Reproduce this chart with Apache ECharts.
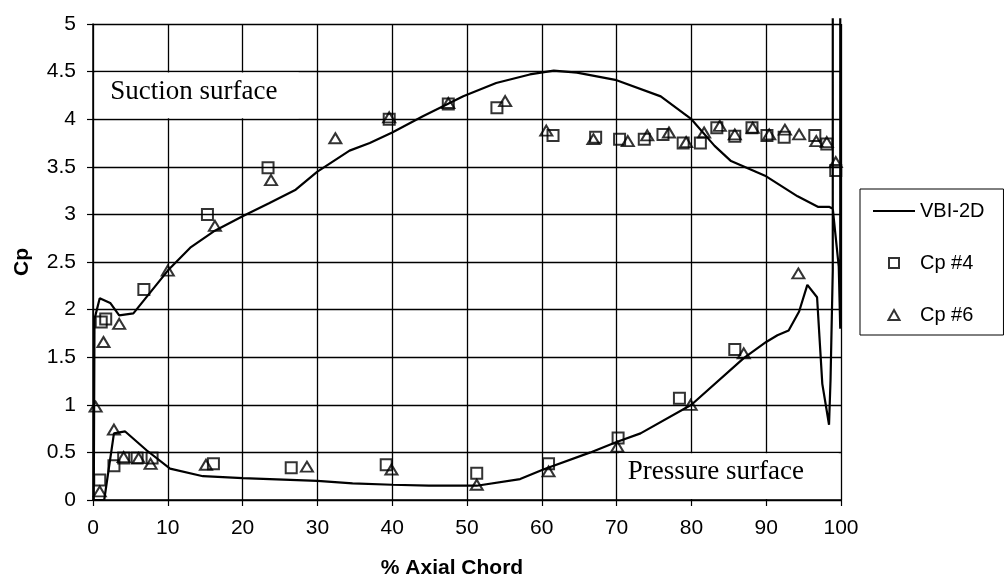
<!DOCTYPE html>
<html>
<head>
<meta charset="utf-8">
<script src="https://cdn.jsdelivr.net/npm/echarts@6/dist/echarts.min.js"></script>
<style>
  html, body { margin: 0; padding: 0; background: #fff; }
  #chart { width: 1005px; height: 586px; }
</style>
</head>
<body>
<div id="chart"></div>
<script>
// ---- data ----
// VBI-2D computed curve, traced as one path around the blade
const vbiX = [99.9, 99.9, 99.7, 98.9, 98.4, 96.9, 94.2, 90, 85.3, 83.1, 80, 75.9, 70, 64.7, 61.6, 58.4, 53.9, 49.5, 44.1, 40, 37, 34.3, 30, 27.1, 23.6, 20, 16.1, 13, 10, 5.4, 3.5, 2.3, 0.9, 0.2, 0.1,
              1.5, 2.8, 4.3, 7.2, 10.3, 14.7, 20, 30, 34.7, 40, 44.9, 51.3, 57.1, 60.2, 66.5, 70, 73.2, 80, 87, 90, 91.5, 93, 94.4, 95.5, 96.8, 97.5, 98.4, 98.6, 98.9, 98.9];
const vbiY = [5.06, 1.8, 2.45, 3.06, 3.08, 3.08, 3.19, 3.40, 3.56, 3.72, 4.0, 4.24, 4.41, 4.49, 4.51, 4.47, 4.38, 4.24, 4.03, 3.86, 3.75, 3.67, 3.45, 3.26, 3.12, 2.98, 2.82, 2.65, 2.41, 1.96, 1.94, 2.07, 2.12, 1.9, 0,
              0, 0.70, 0.72, 0.52, 0.33, 0.25, 0.23, 0.20, 0.175, 0.16, 0.15, 0.15, 0.22, 0.32, 0.50, 0.61, 0.70, 1.0, 1.49, 1.66, 1.73, 1.78, 1.98, 2.26, 2.13, 1.22, 0.79, 1.26, 2.41, 5.06];

// Cp #4 measurements (squares)
const cp4X = [0.9, 1.1, 1.7, 2.8, 4.1, 5.9, 6.8, 7.9, 15.3, 16.1, 23.4, 26.5, 39.2, 39.6, 47.5, 51.3, 54.0, 60.9, 61.5, 67.2, 70.2, 70.4, 73.7, 76.2, 78.4, 78.9, 81.2, 83.4, 85.8, 85.8, 88.1, 90.1, 92.4, 96.5, 98.1, 99.3];
const cp4Y = [0.21, 1.87, 1.90, 0.36, 0.44, 0.44, 2.21, 0.44, 3.0, 0.38, 3.49, 0.34, 0.37, 4.0, 4.16, 0.28, 4.12, 0.38, 3.83, 3.81, 0.65, 3.79, 3.79, 3.84, 1.07, 3.75, 3.75, 3.91, 1.58, 3.82, 3.91, 3.83, 3.81, 3.83, 3.74, 3.46];

// Cp #6 measurements (triangles)
const cp6X = [0.35, 0.9, 1.4, 2.8, 3.5, 4.1, 6.1, 7.7, 10, 15.1, 16.3, 23.8, 28.6, 32.4, 39.6, 39.9, 47.5, 51.3, 55.1, 60.6, 60.9, 66.9, 70.1, 71.5, 74.1, 77.0, 79.3, 79.9, 81.7, 83.8, 85.8, 87.0, 88.2, 90.4, 92.5, 94.3, 94.4, 96.7, 98.1, 99.3];
const cp6Y = [0.98, 0.09, 1.66, 0.74, 1.85, 0.45, 0.44, 0.38, 2.41, 0.37, 2.88, 3.36, 0.35, 3.8, 4.02, 0.32, 4.17, 0.16, 4.19, 3.88, 0.30, 3.79, 0.56, 3.77, 3.83, 3.86, 3.76, 1.0, 3.86, 3.93, 3.84, 1.54, 3.91, 3.84, 3.89, 2.38, 3.84, 3.77, 3.76, 3.55];

const seriesNames = ['VBI-2D', 'Cp #4', 'Cp #6'];
const xTitle = '% Axial Chord';
const yTitle = 'Cp';
const noteSuction = 'Suction surface';
const notePressure = 'Pressure surface';

// ---- build ----
const zip = (xs, ys) => xs.map((x, i) => [x, ys[i]]);
const sans = 'Liberation Sans, Arial, sans-serif';
const serif = 'Liberation Serif, Times New Roman, serif';

const chart = echarts.init(document.getElementById('chart'), null, { renderer: 'canvas' });

const markerStyle = { color: 'rgba(0,0,0,0)', borderColor: '#000', borderWidth: 2 };

chart.setOption({
  animation: false,
  backgroundColor: '#fff',
  grid: { left: 93, right: 164, top: 24, bottom: 86, containLabel: false },
  xAxis: {
    type: 'value', min: 0, max: 100, interval: 10,
    name: xTitle, nameLocation: 'middle', nameGap: 58,
    nameTextStyle: { fontFamily: sans, fontSize: 21, fontWeight: 'bold', color: '#000', padding: [0, 30, 0, 0] },
    axisLine: { show: true, onZero: false, lineStyle: { color: '#000', width: 1.5 } },
    axisTick: { show: true, inside: false, length: 6, lineStyle: { color: '#000', width: 1.2 } },
    axisLabel: { margin: 18, fontFamily: sans, fontSize: 21, color: '#000' },
    splitLine: { show: true, lineStyle: { color: '#000', width: 1.3 } }
  },
  yAxis: {
    type: 'value', min: 0, max: 5, interval: 0.5,
    name: yTitle, nameLocation: 'middle', nameGap: 60, nameRotate: 90,
    nameTextStyle: { fontFamily: sans, fontSize: 21, fontWeight: 'bold', color: '#000' },
    axisLine: { show: true, onZero: false, lineStyle: { color: '#000', width: 1.5 } },
    axisTick: { show: true, inside: false, length: 6, lineStyle: { color: '#000', width: 1.2 } },
    axisLabel: { margin: 17, fontFamily: sans, fontSize: 21, color: '#000' },
    splitLine: { show: true, lineStyle: { color: '#000', width: 1.3 } }
  },
  legend: {
    orient: 'vertical', left: 860, top: 189,
    padding: [11, 19, 9, 13],
    itemWidth: 42, itemHeight: 10, itemGap: 30,
    symbolKeepAspect: true,
    borderColor: '#000', borderWidth: 1, backgroundColor: '#fff',
    textStyle: { fontFamily: sans, fontSize: 20, lineHeight: 22, color: '#000' },
    data: [
      { name: seriesNames[0], icon: 'path://M0,0 L42,0 L42,2.2 L0,2.2 Z', itemStyle: { color: '#000', borderWidth: 0 } },
      { name: seriesNames[1], icon: 'path://M0,0 L10,0 L10,10 L0,10 Z', itemStyle: markerStyle },
      { name: seriesNames[2], icon: 'path://M5,0 L10,9 L0,9 Z', itemStyle: markerStyle }
    ]
  },
  series: [
    {
      name: seriesNames[0], type: 'line', data: zip(vbiX, vbiY),
      symbol: 'none', showSymbol: false, clip: false, smooth: false,
      lineStyle: { color: '#000', width: 2.2 },
      itemStyle: { color: '#000' },
      z: 3,
      markArea: {
        silent: true,
        itemStyle: { color: '#fff', borderWidth: 0 },
        label: { show: true, color: '#000', fontFamily: serif, fontSize: 27 },
        data: [
          [
            { name: noteSuction, xAxis: 0.3, yAxis: 4.49, label: { position: 'insideLeft', distance: 15, offset: [0, -3] } },
            { xAxis: 27.5, yAxis: 4.01 }
          ],
          [
            { name: notePressure, xAxis: 70.3, yAxis: 0.49, label: { position: 'insideLeft', distance: 9, offset: [0, -4] } },
            { xAxis: 99.7, yAxis: 0.01 }
          ]
        ]
      }
    },
    {
      name: seriesNames[1], type: 'scatter', data: zip(cp4X, cp4Y),
      symbol: 'rect', symbolSize: 11, itemStyle: markerStyle, z: 4
    },
    {
      name: seriesNames[2], type: 'scatter', data: zip(cp6X, cp6Y),
      symbol: 'triangle', symbolSize: [12, 10], itemStyle: markerStyle, z: 4
    }
  ]
});
</script>
</body>
</html>
